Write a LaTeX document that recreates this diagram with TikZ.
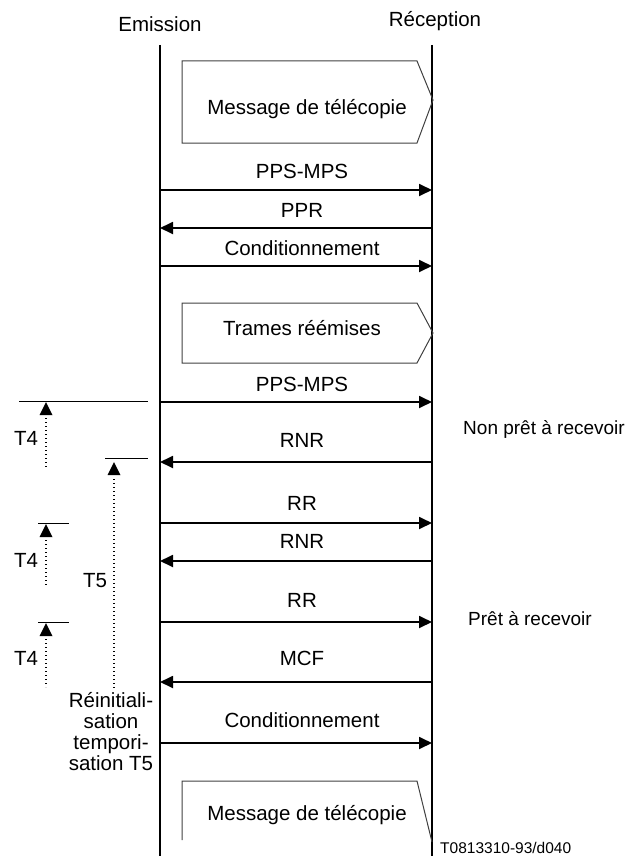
\documentclass[tikz,border=0pt]{standalone}
\usepackage{fontspec}
\setmainfont{Liberation Sans}
\usetikzlibrary{arrows.meta}
\begin{document}
\begin{tikzpicture}[x=1pt,y=-1pt,
  font=\fontsize{20.5}{21}\selectfont,
  life/.style={line width=2pt},
  msg/.style={line width=1.8pt,-{Triangle[length=13pt,width=12pt]}},
  frame/.style={draw=black!75,line width=1pt},
  lbl/.style={anchor=base,inner sep=0pt},
  tline/.style={line width=1pt},
  dots/.style={line width=1.3pt,dash pattern=on 1.3pt off 2.7pt},
  thead/.style={fill=black},
]
\useasboundingbox (0,0) rectangle (628,856);

% lifelines
\coordinate (Etop) at (160,45); \coordinate (Ebot) at (160,856);
\coordinate (Rtop) at (432,45); \coordinate (Rbot) at (432,856);
\draw[life] (Etop) -- (Ebot);
\draw[life] (Rtop) -- (Rbot);
\node[lbl] (hE) at (160,32) {Emission};
\node[lbl] (hR) at (435,27) {Réception};

% message boxes
\draw[frame] (182,61) -- (417,61) -- (433,100) -- (417,143) -- (182,143) -- cycle;
\node[lbl] (m1) at (307,115) {Message de télécopie};
\draw[frame] (182,303) -- (417,303) -- (433,333) -- (417,363) -- (182,363) -- cycle;
\node[lbl] (m2) at (302,335) {Trames réémises};
\draw[frame] (182,840) -- (182,781) -- (417,781) -- (432,842);
\node[lbl] (m3) at (307,820) {Message de télécopie};

% message arrows
\foreach \n/\y in {1/190,2/228,3/266,4/402,5/462,6/523,7/561,8/622,9/682,10/743}{
  \coordinate (e\n) at (160,\y);
  \coordinate (r\n) at (432,\y);
}
\draw[msg] (e1) -- (r1);
\draw[msg] (r2) -- (e2);
\draw[msg] (e3) -- (r3);
\draw[msg] (e4) -- (r4);
\draw[msg] (r5) -- (e5);
\draw[msg] (e6) -- (r6);
\draw[msg] (r7) -- (e7);
\draw[msg] (e8) -- (r8);
\draw[msg] (r9) -- (e9);
\draw[msg] (e10) -- (r10);

\node[lbl] (l1) at (302,178) {PPS-MPS};
\node[lbl] (l2) at (302,217) {PPR};
\node[lbl] (l3) at (302,255) {Conditionnement};
\node[lbl] (l4) at (302,391) {PPS-MPS};
\node[lbl] (l5) at (302,447) {RNR};
\node[lbl] (l6) at (302,510) {RR};
\node[lbl] (l7) at (302,548) {RNR};
\node[lbl] (l8) at (302,607) {RR};
\node[lbl] (l9) at (302,665) {MCF};
\node[lbl] (l10) at (302,727) {Conditionnement};

% right side states
\node[lbl,anchor=base east,font=\fontsize{19}{20}\selectfont] (s1) at (625,434) {Non prêt à recevoir};
\node[lbl,anchor=base west,font=\fontsize{19}{20}\selectfont] (s2) at (468,625) {Prêt à recevoir};

% timers
\coordinate (ta1) at (19,401);  \coordinate (ta2) at (148,401);
\draw[tline] (ta1) -- (ta2);
\fill[thead] (46,402) -- (52.5,415) -- (39.5,415) -- cycle;
\coordinate (da1) at (46,418); \coordinate (da2) at (46,467);
\draw[dots] (da1) -- (da2);
\node[lbl] (t4a) at (26,445) {T4};

\coordinate (tb1) at (105,458); \coordinate (tb2) at (148,458);
\draw[tline] (tb1) -- (tb2);
\fill[thead] (114,462) -- (120.5,475) -- (107.5,475) -- cycle;
\coordinate (db1) at (114,479); \coordinate (db2) at (114,688);
\draw[dots] (db1) -- (db2);
\node[lbl] (t5) at (95,587) {T5};

\coordinate (tc1) at (38,523); \coordinate (tc2) at (69,523);
\draw[tline] (tc1) -- (tc2);
\fill[thead] (46,524) -- (52.5,537) -- (39.5,537) -- cycle;
\coordinate (dc1) at (46,540); \coordinate (dc2) at (46,587);
\draw[dots] (dc1) -- (dc2);
\node[lbl] (t4b) at (26,567) {T4};

\coordinate (td1) at (38,622); \coordinate (td2) at (69,622);
\draw[tline] (td1) -- (td2);
\fill[thead] (46,623) -- (52.5,636) -- (39.5,636) -- cycle;
\coordinate (dd1) at (46,639); \coordinate (dd2) at (46,687);
\draw[dots] (dd1) -- (dd2);
\node[lbl] (t4c) at (26,665) {T4};

% reset text
\node[lbl] (r1t) at (111,707) {Réinitiali-};
\node[lbl] (r2t) at (111,728) {sation};
\node[lbl] (r3t) at (111,749) {tempori-};
\node[lbl] (r4t) at (111,770) {sation T5};

% reference
\node[lbl,anchor=base west,font=\fontsize{15.5}{17}\selectfont] (ref) at (440,853) {T0813310-93/d040};
\end{tikzpicture}
\end{document}
